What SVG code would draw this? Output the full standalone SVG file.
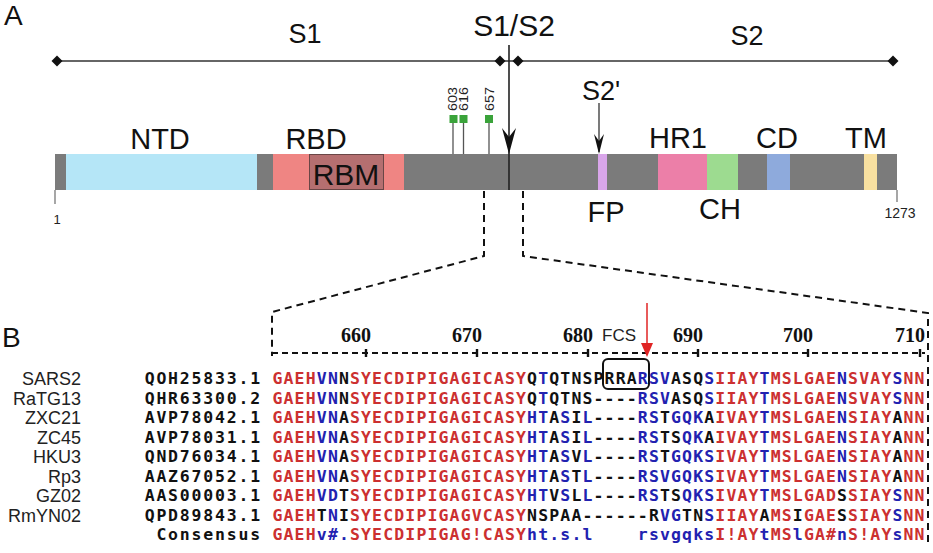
<svg xmlns="http://www.w3.org/2000/svg" xmlns:xlink="http://www.w3.org/1999/xlink" width="933" height="553" viewBox="0 0 933 553">
<style>
.lbl{font-family:"Liberation Sans",Arial,sans-serif;font-size:29px;fill:#111;text-anchor:middle}
.big{font-family:"Liberation Sans",Arial,sans-serif;font-size:28px;fill:#111}
.small{font-family:"Liberation Sans",Arial,sans-serif;font-size:13px;fill:#222}
.site{font-family:"Liberation Sans",Arial,sans-serif;font-size:12.5px;fill:#222}
.seg{stroke:none}
.gray{fill:#7b7b7b}
.seq{font-family:"DejaVu Sans Mono",monospace;font-weight:bold;font-size:16.5px;fill:#cc3030}
.seq .b{fill:#2222b0}
.seq .k{fill:#111}
.id{font-family:"DejaVu Sans Mono",monospace;font-weight:bold;font-size:16.5px;fill:#111;text-anchor:end;letter-spacing:1.8px}
.name{font-family:"Liberation Sans",Arial,sans-serif;font-size:18px;fill:#222;text-anchor:end}
.num{font-family:"Liberation Serif","Times New Roman",serif;font-weight:bold;font-size:20px;fill:#111;text-anchor:end}
.dash{fill:none;stroke:#111;stroke-width:2;stroke-dasharray:7 5}
.thin{fill:none;stroke:#333;stroke-width:1.5}
.glyc{fill:#3aa33a}
.stem{stroke:#555;stroke-width:1.3}
</style>
<defs>
<path id="dia" d="M-5.5,0 L0,-5.5 L5.5,0 L0,5.5Z" fill="#111"/>
</defs>
<rect width="933" height="553" fill="#fff"/>

<!-- Panel A -->
<text class="big" x="4" y="25">A</text>
<g id="domains-line">
<line class="thin" x1="57" y1="61" x2="893" y2="61"/>
<use xlink:href="#dia" x="57" y="61"/>
<use xlink:href="#dia" x="500" y="61"/>
<use xlink:href="#dia" x="518" y="61"/>
<use xlink:href="#dia" x="893" y="61"/>
<text class="lbl" x="305" y="43" style="font-size:27px">S1</text>
<text class="lbl" x="514" y="36" style="font-size:30px">S1/S2</text>
<text class="lbl" x="747" y="45" style="font-size:27px">S2</text>
</g>

<g id="bar">
<rect class="gray" x="55" y="154" width="842" height="36"/>
<g id="NTD"><rect class="seg" x="66" y="154" width="191" height="36" fill="#b5e6f7"/><text class="lbl" x="160" y="149">NTD</text></g>
<g id="RBD"><rect class="seg" x="273" y="154" width="131" height="36" fill="#ef8583"/><text class="lbl" x="316" y="149">RBD</text></g>
<g id="RBM"><rect x="309.5" y="154.5" width="74" height="35" fill="#b56f70" stroke="#6a4646" stroke-width="1"/><text class="lbl" x="346" y="185" style="font-size:30px">RBM</text></g>
<g id="FP"><rect class="seg" x="598" y="154" width="9" height="36" fill="#d9a6ea"/><text class="lbl" x="606" y="222">FP</text></g>
<g id="HR1"><rect class="seg" x="658" y="154" width="49" height="36" fill="#ec7fa8"/><text class="lbl" x="678" y="148">HR1</text></g>
<g id="CH"><rect class="seg" x="707" y="154" width="31" height="36" fill="#9ddb90"/><text class="lbl" x="720" y="219">CH</text></g>
<g id="CD"><rect class="seg" x="767" y="154" width="23" height="36" fill="#8eaadc"/><text class="lbl" x="777" y="148">CD</text></g>
<g id="TM"><rect class="seg" x="864" y="154" width="13" height="36" fill="#f8e0a0"/><text class="lbl" x="866" y="148">TM</text></g>
<g id="ends">
<line x1="55" y1="190" x2="55" y2="204" stroke="#777" stroke-width="1.3"/>
<text class="small" x="57" y="224" text-anchor="middle">1</text>
<line x1="897" y1="190" x2="897" y2="202" stroke="#777" stroke-width="1.3"/>
<text class="small" x="900" y="218" text-anchor="middle" style="font-size:14px">1273</text>
</g>
</g>

<g id="glycosylation">
<line class="stem" x1="453" y1="122" x2="453" y2="154"/>
<line class="stem" x1="463.5" y1="122" x2="463.5" y2="154"/>
<line class="stem" x1="489" y1="122" x2="489" y2="154"/>
<rect class="glyc" x="449.5" y="115" width="8" height="8"/>
<rect class="glyc" x="459.5" y="115" width="8" height="8"/>
<rect class="glyc" x="485" y="115" width="8" height="8"/>
<text class="site" transform="translate(457,111) rotate(-90)" textLength="24" lengthAdjust="spacingAndGlyphs">603</text>
<text class="site" transform="translate(467.5,111) rotate(-90)" textLength="24" lengthAdjust="spacingAndGlyphs">616</text>
<text class="site" transform="translate(493.5,111) rotate(-90)" textLength="24" lengthAdjust="spacingAndGlyphs">657</text>
</g>

<g id="connectors">
<line x1="509" y1="45" x2="509" y2="190" stroke="#222" stroke-width="1.6"/>
<path d="M509,154 L502,128 L509,137 L516,128Z" fill="#111"/>
<text class="lbl" x="601" y="100" style="font-size:27px">S2'</text>
<line x1="599" y1="103" x2="599" y2="152" stroke="#222" stroke-width="1.2"/>
<path d="M599,154 L594,134 L599,141 L604,134Z" fill="#111"/>
<path class="dash" d="M484,191 V256 L272,312 V356"/>
<path class="dash" d="M523,191 V256 L928,313 V545"/>
</g>

<!-- Panel B -->
<text class="big" x="2" y="347">B</text>
<g id="ruler">
<line x1="272" y1="353" x2="925" y2="353" stroke="#111" stroke-width="2" stroke-dasharray="6 4"/>
<g stroke="#111" stroke-width="2.4">
<line x1="366" y1="349" x2="366" y2="357"/><line x1="477" y1="349" x2="477" y2="357"/><line x1="588" y1="349" x2="588" y2="357"/>
<line x1="698" y1="349" x2="698" y2="357"/><line x1="808" y1="349" x2="808" y2="357"/><line x1="920" y1="349" x2="920" y2="357"/>
</g>
<text class="num" x="371" y="342">660</text>
<text class="num" x="482" y="342">670</text>
<text class="num" x="593" y="342">680</text>
<text class="num" x="703" y="342">690</text>
<text class="num" x="813" y="342">700</text>
<text class="num" x="925" y="342">710</text>
</g>
<g id="FCS">
<text x="602" y="341" style="font-family:'Liberation Sans',Arial,sans-serif;font-size:17px;fill:#222">FCS</text>
<rect x="603" y="359" width="46" height="30" rx="5" fill="none" stroke="#111" stroke-width="2"/>
<line x1="647" y1="303" x2="647" y2="345" stroke="#e02424" stroke-width="1.5"/>
<path d="M641,343 L653,343 L647,357Z" fill="#e02424"/>
</g>

<g id="names">
<text class="name" x="81" y="385">SARS2</text>
<text class="name" x="81" y="404.5">RaTG13</text>
<text class="name" x="81" y="424">ZXC21</text>
<text class="name" x="81" y="443.5">ZC45</text>
<text class="name" x="81" y="463">HKU3</text>
<text class="name" x="81" y="482.5">Rp3</text>
<text class="name" x="81" y="502">GZ02</text>
<text class="name" x="81" y="521.5">RmYN02</text>
</g>
<g id="accessions">
<text class="id" x="262" y="384">QOH25833.1</text>
<text class="id" x="262" y="403.5">QHR63300.2</text>
<text class="id" x="262" y="423">AVP78042.1</text>
<text class="id" x="262" y="442.5">AVP78031.1</text>
<text class="id" x="262" y="462">QND76034.1</text>
<text class="id" x="262" y="481.5">AAZ67052.1</text>
<text class="id" x="262" y="501">AAS00003.1</text>
<text class="id" x="262" y="520.5">QPD89843.1</text>
<text class="id" x="262" y="540">Consensus</text>
</g>
<g id="alignment">
<text class="seq" y="384" x="272.5 283.6 294.6 305.7 316.8 327.9 338.9 350 361.1 372.1 383.2 394.3 405.3 416.4 427.5 438.6 449.6 460.7 471.8 482.8 493.9 505 516 527.1 538.2 549.3 560.3 571.4 582.5 593.5 604.6 615.7 626.7 637.8 648.9 660 671 682.1 693.2 704.2 715.3 726.4 737.4 748.5 759.6 770.7 781.7 792.8 803.9 814.9 826 837.1 848.1 859.2 870.3 881.4 892.4 903.5 914.6">GAEH<tspan class="b">VN</tspan><tspan class="k">N</tspan>SYECDIPIGAGICASY<tspan class="k">Q</tspan><tspan class="b">T</tspan><tspan class="k">QTNSPRRA</tspan><tspan class="b">RSV</tspan><tspan class="k">ASQ</tspan><tspan class="b">S</tspan>IIAY<tspan class="b">T</tspan>MSLGAE<tspan class="b">N</tspan>SVAY<tspan class="b">S</tspan>NN</text>
<text class="seq" y="403.5" x="272.5 283.6 294.6 305.7 316.8 327.9 338.9 350 361.1 372.1 383.2 394.3 405.3 416.4 427.5 438.6 449.6 460.7 471.8 482.8 493.9 505 516 527.1 538.2 549.3 560.3 571.4 582.5 593.5 604.6 615.7 626.7 637.8 648.9 660 671 682.1 693.2 704.2 715.3 726.4 737.4 748.5 759.6 770.7 781.7 792.8 803.9 814.9 826 837.1 848.1 859.2 870.3 881.4 892.4 903.5 914.6">GAEH<tspan class="b">VN</tspan><tspan class="k">N</tspan>SYECDIPIGAGICASY<tspan class="k">Q</tspan><tspan class="b">T</tspan><tspan class="k">QTNS----</tspan><tspan class="b">RSV</tspan><tspan class="k">ASQ</tspan><tspan class="b">S</tspan>IIAY<tspan class="b">T</tspan>MSLGAE<tspan class="b">N</tspan>SVAY<tspan class="b">S</tspan>NN</text>
<text class="seq" y="423" x="272.5 283.6 294.6 305.7 316.8 327.9 338.9 350 361.1 372.1 383.2 394.3 405.3 416.4 427.5 438.6 449.6 460.7 471.8 482.8 493.9 505 516 527.1 538.2 549.3 560.3 571.4 582.5 593.5 604.6 615.7 626.7 637.8 648.9 660 671 682.1 693.2 704.2 715.3 726.4 737.4 748.5 759.6 770.7 781.7 792.8 803.9 814.9 826 837.1 848.1 859.2 870.3 881.4 892.4 903.5 914.6">GAEH<tspan class="b">VN</tspan><tspan class="k">A</tspan>SYECDIPIGAGICASY<tspan class="b">HT</tspan><tspan class="k">A</tspan><tspan class="b">S</tspan><tspan class="k">I</tspan><tspan class="b">L</tspan><tspan class="k">----</tspan><tspan class="b">RS</tspan><tspan class="k">T</tspan><tspan class="b">GQK</tspan><tspan class="k">A</tspan>IVAY<tspan class="b">T</tspan>MSLGAE<tspan class="b">N</tspan>SIAY<tspan class="k">A</tspan>NN</text>
<text class="seq" y="442.5" x="272.5 283.6 294.6 305.7 316.8 327.9 338.9 350 361.1 372.1 383.2 394.3 405.3 416.4 427.5 438.6 449.6 460.7 471.8 482.8 493.9 505 516 527.1 538.2 549.3 560.3 571.4 582.5 593.5 604.6 615.7 626.7 637.8 648.9 660 671 682.1 693.2 704.2 715.3 726.4 737.4 748.5 759.6 770.7 781.7 792.8 803.9 814.9 826 837.1 848.1 859.2 870.3 881.4 892.4 903.5 914.6">GAEH<tspan class="b">VN</tspan><tspan class="k">A</tspan>SYECDIPIGAGICASY<tspan class="b">HT</tspan><tspan class="k">A</tspan><tspan class="b">S</tspan><tspan class="k">I</tspan><tspan class="b">L</tspan><tspan class="k">----</tspan><tspan class="b">RS</tspan><tspan class="k">TS</tspan><tspan class="b">QK</tspan><tspan class="k">A</tspan>IVAY<tspan class="b">T</tspan>MSLGAE<tspan class="b">N</tspan>SIAY<tspan class="k">A</tspan>NN</text>
<text class="seq" y="462" x="272.5 283.6 294.6 305.7 316.8 327.9 338.9 350 361.1 372.1 383.2 394.3 405.3 416.4 427.5 438.6 449.6 460.7 471.8 482.8 493.9 505 516 527.1 538.2 549.3 560.3 571.4 582.5 593.5 604.6 615.7 626.7 637.8 648.9 660 671 682.1 693.2 704.2 715.3 726.4 737.4 748.5 759.6 770.7 781.7 792.8 803.9 814.9 826 837.1 848.1 859.2 870.3 881.4 892.4 903.5 914.6">GAEH<tspan class="b">VN</tspan><tspan class="k">A</tspan>SYECDIPIGAGICASY<tspan class="b">HT</tspan><tspan class="k">A</tspan><tspan class="b">S</tspan><tspan class="k">V</tspan><tspan class="b">L</tspan><tspan class="k">----</tspan><tspan class="b">RS</tspan><tspan class="k">T</tspan><tspan class="b">GQKS</tspan>IVAY<tspan class="b">T</tspan>MSLGAE<tspan class="b">N</tspan>SIAY<tspan class="k">A</tspan>NN</text>
<text class="seq" y="481.5" x="272.5 283.6 294.6 305.7 316.8 327.9 338.9 350 361.1 372.1 383.2 394.3 405.3 416.4 427.5 438.6 449.6 460.7 471.8 482.8 493.9 505 516 527.1 538.2 549.3 560.3 571.4 582.5 593.5 604.6 615.7 626.7 637.8 648.9 660 671 682.1 693.2 704.2 715.3 726.4 737.4 748.5 759.6 770.7 781.7 792.8 803.9 814.9 826 837.1 848.1 859.2 870.3 881.4 892.4 903.5 914.6">GAEH<tspan class="b">VN</tspan><tspan class="k">A</tspan>SYECDIPIGAGICASY<tspan class="b">HT</tspan><tspan class="k">A</tspan><tspan class="b">S</tspan><tspan class="k">T</tspan><tspan class="b">L</tspan><tspan class="k">----</tspan><tspan class="b">RSVGQKS</tspan>IVAY<tspan class="b">T</tspan>MSLGAE<tspan class="b">N</tspan>SIAY<tspan class="k">A</tspan>NN</text>
<text class="seq" y="501" x="272.5 283.6 294.6 305.7 316.8 327.9 338.9 350 361.1 372.1 383.2 394.3 405.3 416.4 427.5 438.6 449.6 460.7 471.8 482.8 493.9 505 516 527.1 538.2 549.3 560.3 571.4 582.5 593.5 604.6 615.7 626.7 637.8 648.9 660 671 682.1 693.2 704.2 715.3 726.4 737.4 748.5 759.6 770.7 781.7 792.8 803.9 814.9 826 837.1 848.1 859.2 870.3 881.4 892.4 903.5 914.6">GAEH<tspan class="b">VD</tspan><tspan class="k">T</tspan>SYECDIPIGAGICASY<tspan class="b">HT</tspan><tspan class="k">V</tspan><tspan class="b">S</tspan><tspan class="k">L</tspan><tspan class="b">L</tspan><tspan class="k">----</tspan><tspan class="b">RS</tspan><tspan class="k">TS</tspan><tspan class="b">QKS</tspan>IVAY<tspan class="b">T</tspan>MSLGAD<tspan class="k">S</tspan>SIAY<tspan class="b">S</tspan>NN</text>
<text class="seq" y="520.5" x="272.5 283.6 294.6 305.7 316.8 327.9 338.9 350 361.1 372.1 383.2 394.3 405.3 416.4 427.5 438.6 449.6 460.7 471.8 482.8 493.9 505 516 527.1 538.2 549.3 560.3 571.4 582.5 593.5 604.6 615.7 626.7 637.8 648.9 660 671 682.1 693.2 704.2 715.3 726.4 737.4 748.5 759.6 770.7 781.7 792.8 803.9 814.9 826 837.1 848.1 859.2 870.3 881.4 892.4 903.5 914.6">GAEH<tspan class="k">T</tspan><tspan class="b">N</tspan><tspan class="k">I</tspan>SYECDIPIGAGVCASY<tspan class="k">NSPAA------R</tspan><tspan class="b">VG</tspan><tspan class="k">TN</tspan><tspan class="b">S</tspan>IIAY<tspan class="k">A</tspan>MS<tspan class="k">I</tspan>GAE<tspan class="k">S</tspan>SIAY<tspan class="b">S</tspan>NN</text>
<text class="seq" y="540" x="272.5 283.6 294.6 305.7 316.8 327.9 338.9 350 361.1 372.1 383.2 394.3 405.3 416.4 427.5 438.6 449.6 460.7 471.8 482.8 493.9 505 516 527.1 538.2 549.3 560.3 571.4 582.5">GAEH<tspan class="b">v#.</tspan>SYECDIPIGAG!CASY<tspan class="b">ht.s.l</tspan></text>
<text class="seq" y="540" x="637.8 648.9 660 671 682.1 693.2 704.2 715.3 726.4 737.4 748.5 759.6 770.7 781.7 792.8 803.9 814.9 826 837.1 848.1 859.2 870.3 881.4 892.4 903.5 914.6"><tspan class="b">rsvgqks</tspan>I!AY<tspan class="b">t</tspan>MS<tspan class="b">l</tspan>GA#<tspan class="b">n</tspan>S!AY<tspan class="b">s</tspan>NN</text>
</g>
</svg>
